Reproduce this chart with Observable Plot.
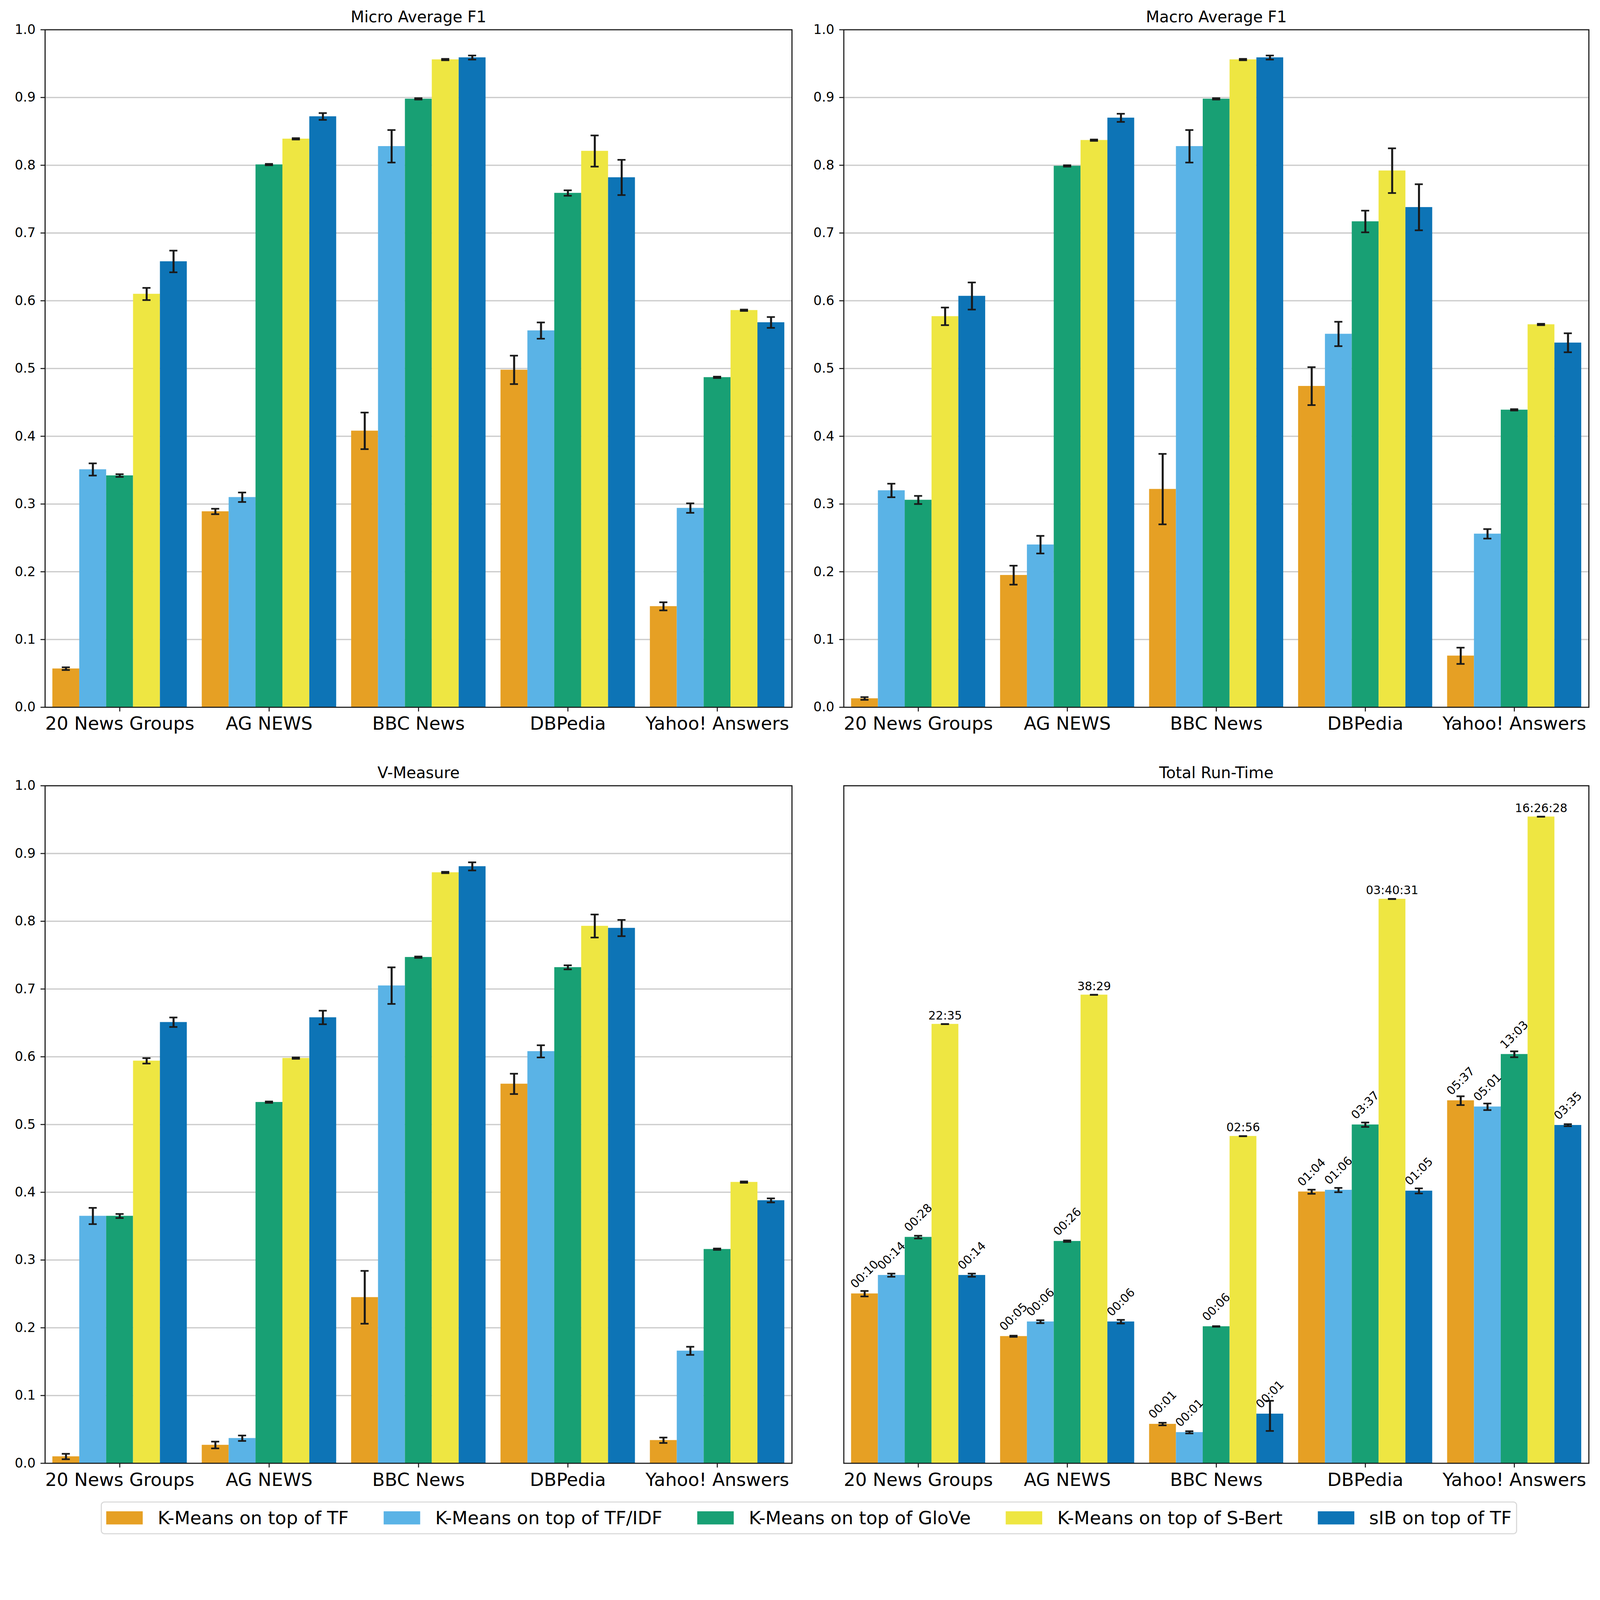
<!DOCTYPE html>
<html><head><meta charset="utf-8">
<script src="https://cdn.jsdelivr.net/npm/d3@7"></script>
<script src="https://cdn.jsdelivr.net/npm/@observablehq/plot@0.6"></script>
<style>
html,body{margin:0;padding:0;background:#fff;overflow:hidden;}
#fig{position:relative;width:4383px;height:4227px;background:#fff;font-family:"DejaVu Sans",sans-serif;overflow:hidden;transform-origin:0 0;}
.panel{position:absolute;}
#legend{position:absolute;left:276px;top:4113px;width:3880px;height:90px;box-sizing:border-box;border:3px solid #d9d9d9;border-radius:10px;display:flex;align-items:center;justify-content:center;gap:96px;font-size:50px;color:#000;background:#fff;white-space:nowrap;}
.item{display:flex;align-items:center;}
.sw{width:100px;height:36px;margin-right:41px;}
</style></head>
<body><div id="fig"></div>
<script>
const datasets = ["20 News Groups", "AG NEWS", "BBC News", "DBPedia", "Yahoo! Answers"];
const methods = ["K-Means on top of TF", "K-Means on top of TF/IDF", "K-Means on top of GloVe", "K-Means on top of S-Bert", "sIB on top of TF"];
const colors = ["#E6A024", "#5AB3E6", "#18A074", "#EEE642", "#0D74B6"];
const scoreTicks = [0, 0.1, 0.2, 0.3, 0.4, 0.5, 0.6, 0.7, 0.8, 0.9, 1.0];
const datasetTicks = [0, 1, 2, 3, 4];

// rows = methods, columns = datasets
const microF1Mean = [
  [0.057, 0.289, 0.408, 0.498, 0.149],
  [0.351, 0.310, 0.828, 0.556, 0.294],
  [0.342, 0.801, 0.898, 0.759, 0.487],
  [0.610, 0.839, 0.956, 0.821, 0.586],
  [0.658, 0.872, 0.959, 0.782, 0.568]
];
const microF1Std = [
  [0.002, 0.004, 0.027, 0.021, 0.006],
  [0.009, 0.007, 0.024, 0.012, 0.007],
  [0.002, 0.001, 0.001, 0.004, 0.001],
  [0.009, 0.001, 0.001, 0.023, 0.001],
  [0.016, 0.005, 0.003, 0.026, 0.008]
];
const macroF1Mean = [
  [0.013, 0.195, 0.322, 0.474, 0.076],
  [0.320, 0.240, 0.828, 0.551, 0.256],
  [0.306, 0.799, 0.898, 0.717, 0.439],
  [0.577, 0.837, 0.956, 0.792, 0.565],
  [0.607, 0.870, 0.959, 0.738, 0.538]
];
const macroF1Std = [
  [0.002, 0.014, 0.052, 0.028, 0.012],
  [0.010, 0.013, 0.024, 0.018, 0.007],
  [0.006, 0.001, 0.001, 0.016, 0.001],
  [0.013, 0.001, 0.001, 0.033, 0.001],
  [0.020, 0.006, 0.003, 0.034, 0.014]
];
const vMeasureMean = [
  [0.010, 0.027, 0.245, 0.560, 0.034],
  [0.365, 0.037, 0.705, 0.608, 0.166],
  [0.365, 0.533, 0.747, 0.732, 0.316],
  [0.594, 0.598, 0.872, 0.793, 0.415],
  [0.651, 0.658, 0.881, 0.790, 0.388]
];
const vMeasureStd = [
  [0.004, 0.005, 0.039, 0.015, 0.004],
  [0.012, 0.004, 0.027, 0.009, 0.006],
  [0.003, 0.001, 0.001, 0.003, 0.001],
  [0.004, 0.001, 0.001, 0.017, 0.001],
  [0.007, 0.010, 0.006, 0.012, 0.003]
];
// run time in seconds
const runTimeMean = [
  [10, 4.6, 0.93, 64, 337],
  [14, 6, 0.80, 66, 301],
  [28, 26, 5.5, 217, 783],
  [1355, 2309, 176, 13231, 59188],
  [14, 6, 1.12, 65, 215]
];
const runTimeStd = [
  [0.5, 0.05, 0.022, 2.4, 27],
  [0.4, 0.16, 0.016, 2.6, 18],
  [0.7, 0.35, 0.03, 8.7, 42],
  [2, 3, 0.3, 20, 60],
  [0.4, 0.2, 0.3, 3, 4]
];
const runTimeLabels = [
  ["00:10", "00:05", "00:01", "01:04", "05:37"],
  ["00:14", "00:06", "00:01", "01:06", "05:01"],
  ["00:28", "00:26", "00:06", "03:37", "13:03"],
  ["22:35", "38:29", "02:56", "03:40:31", "16:26:28"],
  ["00:14", "00:06", "00:01", "01:05", "03:35"]
];
const runTimeDomain = [0.455, 104000];

const barW = 0.18, capHalf = 0.027;
const ink = "#1a1a1a";

function buildRows(mean, std, labels) {
  const rows = [];
  methods.forEach((m, mi) => datasets.forEach((d, di) => {
    rows.push({method: m, mi, di, xc: di + (mi - 2) * barW, v: mean[mi][di], e: std[mi][di], label: labels ? labels[mi][di] : null});
  }));
  return rows;
}

function panel({title, mean, std, labels, log, marginLeft, marginRight}) {
  const rows = buildRows(mean, std, labels);
  const base = log ? runTimeDomain[0] : 0;
  const marks = [];
  if (!log) marks.push(Plot.ruleY(scoreTicks.filter(t => t > 0 && t < 1), {stroke: "#cccccc", strokeWidth: 3.5}));
  marks.push(Plot.rect(rows, {x1: d => d.xc - barW / 2, x2: d => d.xc + barW / 2, y1: base, y2: "v", fill: "method"}));
  marks.push(Plot.ruleX(rows, {x: "xc", y1: d => d.v - d.e, y2: d => d.v + d.e, stroke: ink, strokeWidth: 5.5}));
  marks.push(Plot.ruleY(rows, {y: d => d.v - d.e, x1: d => d.xc - capHalf, x2: d => d.xc + capHalf, stroke: ink, strokeWidth: 4.5}));
  marks.push(Plot.ruleY(rows, {y: d => d.v + d.e, x1: d => d.xc - capHalf, x2: d => d.xc + capHalf, stroke: ink, strokeWidth: 4.5}));
  if (log) {
    marks.push(Plot.text(rows.filter(d => d.mi === 3), {x: "xc", y: "v", text: "label", dy: -13, lineAnchor: "bottom", fontSize: 32, fill: "#000"}));
    marks.push(Plot.text(rows.filter(d => d.mi !== 3), {x: "xc", y: "v", text: "label", rotate: -45, dy: -53, fontSize: 32, fill: "#000"}));
  }
  marks.push(Plot.frame({stroke: ink, strokeWidth: 3}));
  marks.push(Plot.axisX(datasetTicks, {tickFormat: i => datasets[i], tickSize: 12, tickPadding: 14, fontSize: 50, strokeWidth: 2.8, stroke: ink, fill: "#000", label: null}));
  if (!log) marks.push(Plot.axisY(scoreTicks, {tickFormat: d3.format(".1f"), tickSize: 12, tickPadding: 14, fontSize: 36, strokeWidth: 2.8, stroke: ink, fill: "#000", label: null}));
  marks.push(Plot.text([title], {text: d => d, frameAnchor: "top", dy: -21, lineAnchor: "bottom", fontSize: 43, fill: "#000"}));
  return Plot.plot({
    width: 2191, height: 2071,
    marginTop: 81, marginBottom: 134, marginLeft, marginRight,
    x: {domain: [-0.5, 4.5], label: null},
    y: log ? {type: "log", domain: runTimeDomain, axis: null, label: null} : {domain: [0, 1], label: null},
    color: {domain: methods, range: colors},
    style: {fontFamily: "DejaVu Sans", background: "transparent", overflow: "visible", maxWidth: "none", color: "#000"},
    marks
  });
}

const fig = document.getElementById("fig");
function place(el, left, top) {
  const div = document.createElement("div");
  div.className = "panel";
  div.style.left = left + "px";
  div.style.top = top + "px";
  div.appendChild(el);
  fig.appendChild(div);
}
place(panel({title: "Micro Average F1", mean: microF1Mean, std: microF1Std, marginLeft: 123, marginRight: 22}), 0, 0);
place(panel({title: "Macro Average F1", mean: macroF1Mean, std: macroF1Std, marginLeft: 119, marginRight: 31}), 2192, 0);
place(panel({title: "V-Measure", mean: vMeasureMean, std: vMeasureStd, marginLeft: 123, marginRight: 22}), 0, 2071);
place(panel({title: "Total Run-Time", mean: runTimeMean, std: runTimeStd, labels: runTimeLabels, log: true, marginLeft: 119, marginRight: 31}), 2192, 2071);

const legend = document.createElement("div");
legend.id = "legend";
methods.forEach((m, i) => {
  const item = document.createElement("div");
  item.className = "item";
  const sw = document.createElement("div");
  sw.className = "sw";
  sw.style.background = colors[i];
  const t = document.createElement("span");
  t.textContent = m;
  item.appendChild(sw);
  item.appendChild(t);
  legend.appendChild(item);
});
fig.appendChild(legend);

function fit() {
  const w = document.documentElement.clientWidth || window.innerWidth;
  const h = document.documentElement.clientHeight || window.innerHeight;
  const s = Math.min(w / 4383, h / 4227);
  fig.style.transform = `scale(${s})`;
}
fit();
window.addEventListener("resize", fit);
</script></body></html>
